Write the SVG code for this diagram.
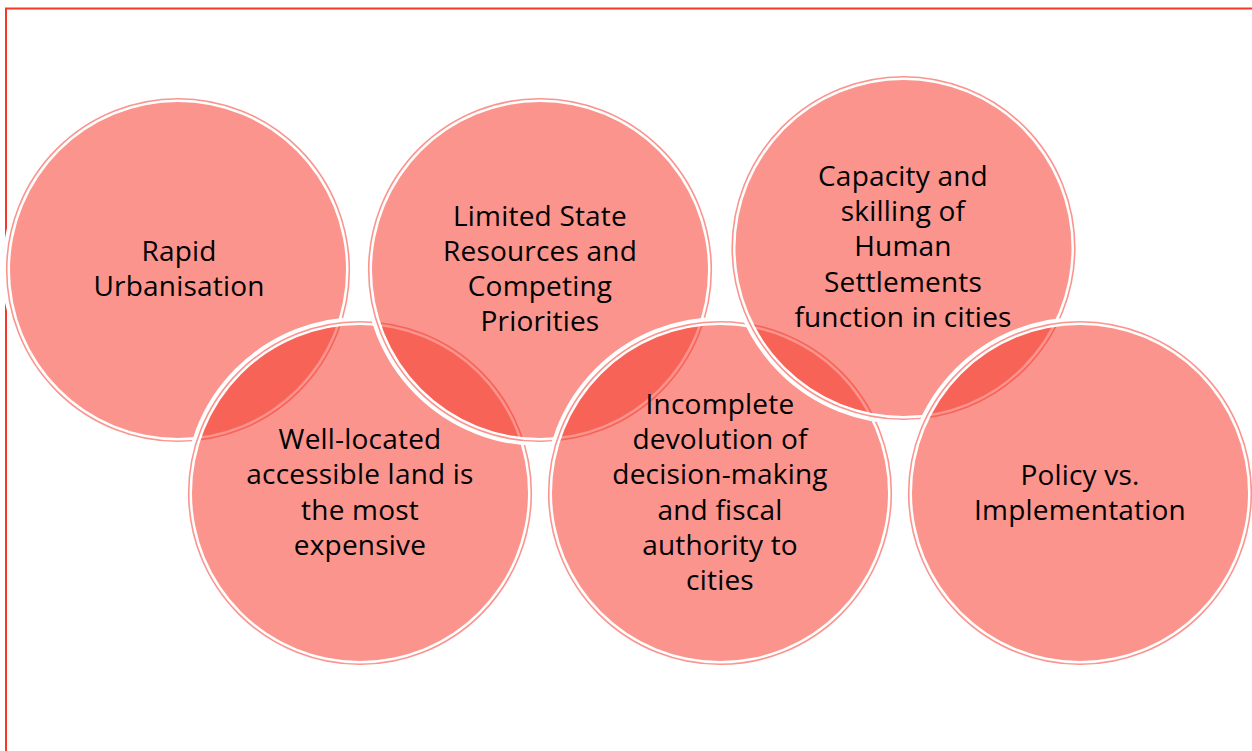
<svg xmlns="http://www.w3.org/2000/svg" width="1252" height="751" viewBox="0 0 1252 751">
  <style>
    .band { fill: none; stroke: #ffffff; stroke-width: 8; }
    .ring { fill: none; stroke: rgb(246,58,45); stroke-opacity: 0.54; stroke-width: 1.6; }
    .disc { fill: rgb(246,58,45); fill-opacity: 0.54; }
    .lbl { font-family: "Open Sans", "Liberation Sans", sans-serif; font-size: 28px; letter-spacing: 0.2px; fill: #000000; text-anchor: middle; }
  </style>
  <rect x="0" y="0" width="1252" height="751" fill="#ffffff"/>
  <rect x="6" y="8.5" width="1260" height="760" fill="none" stroke="rgb(245,55,42)" stroke-width="2"/>

  <g id="node-rapid">
    <circle class="band" cx="178" cy="270" r="172"/>
    <circle class="ring" cx="178" cy="270" r="171.3"/>
    <circle class="disc" cx="178" cy="270" r="168"/>
    <text class="lbl" x="179" y="261">Rapid</text>
    <text class="lbl" x="179" y="296">Urbanisation</text>
  </g>

  <g id="node-land">
    <circle class="band" cx="360" cy="493" r="172"/>
    <circle class="ring" cx="360" cy="493" r="171.3"/>
    <circle class="disc" cx="360" cy="493" r="168"/>
    <text class="lbl" x="360" y="449">Well-located</text>
    <text class="lbl" x="360" y="484">accessible land is</text>
    <text class="lbl" x="360" y="520">the most</text>
    <text class="lbl" x="360" y="555">expensive</text>
  </g>

  <g id="node-resources">
    <circle class="band" cx="540" cy="270" r="172"/>
    <circle class="ring" cx="540" cy="270" r="171.3"/>
    <circle class="disc" cx="540" cy="270" r="168"/>
    <text class="lbl" x="540" y="226">Limited State</text>
    <text class="lbl" x="540" y="261">Resources and</text>
    <text class="lbl" x="540" y="296">Competing</text>
    <text class="lbl" x="540" y="331">Priorities</text>
  </g>

  <g id="node-devolution">
    <circle class="band" cx="720" cy="493" r="172"/>
    <circle class="ring" cx="720" cy="493" r="171.3"/>
    <circle class="disc" cx="720" cy="493" r="168"/>
    <text class="lbl" x="720" y="414">Incomplete</text>
    <text class="lbl" x="720" y="449">devolution of</text>
    <text class="lbl" x="720" y="484">decision-making</text>
    <text class="lbl" x="720" y="520">and fiscal</text>
    <text class="lbl" x="720" y="555">authority to</text>
    <text class="lbl" x="720" y="590">cities</text>
  </g>

  <g id="node-capacity">
    <circle class="band" cx="903.5" cy="248" r="172"/>
    <circle class="ring" cx="903.5" cy="248" r="171.3"/>
    <circle class="disc" cx="903.5" cy="248" r="168"/>
    <text class="lbl" x="903" y="186">Capacity and</text>
    <text class="lbl" x="903" y="221">skilling of</text>
    <text class="lbl" x="903" y="256">Human</text>
    <text class="lbl" x="903" y="292">Settlements</text>
    <text class="lbl" x="903" y="327">function in cities</text>
  </g>

  <g id="node-policy">
    <circle class="band" cx="1080" cy="493" r="172"/>
    <circle class="ring" cx="1080" cy="493" r="171.3"/>
    <circle class="disc" cx="1080" cy="493" r="168"/>
    <text class="lbl" x="1080" y="485">Policy vs.</text>
    <text class="lbl" x="1080" y="520">Implementation</text>
  </g>

  <g id="connectors"></g>
</svg>
